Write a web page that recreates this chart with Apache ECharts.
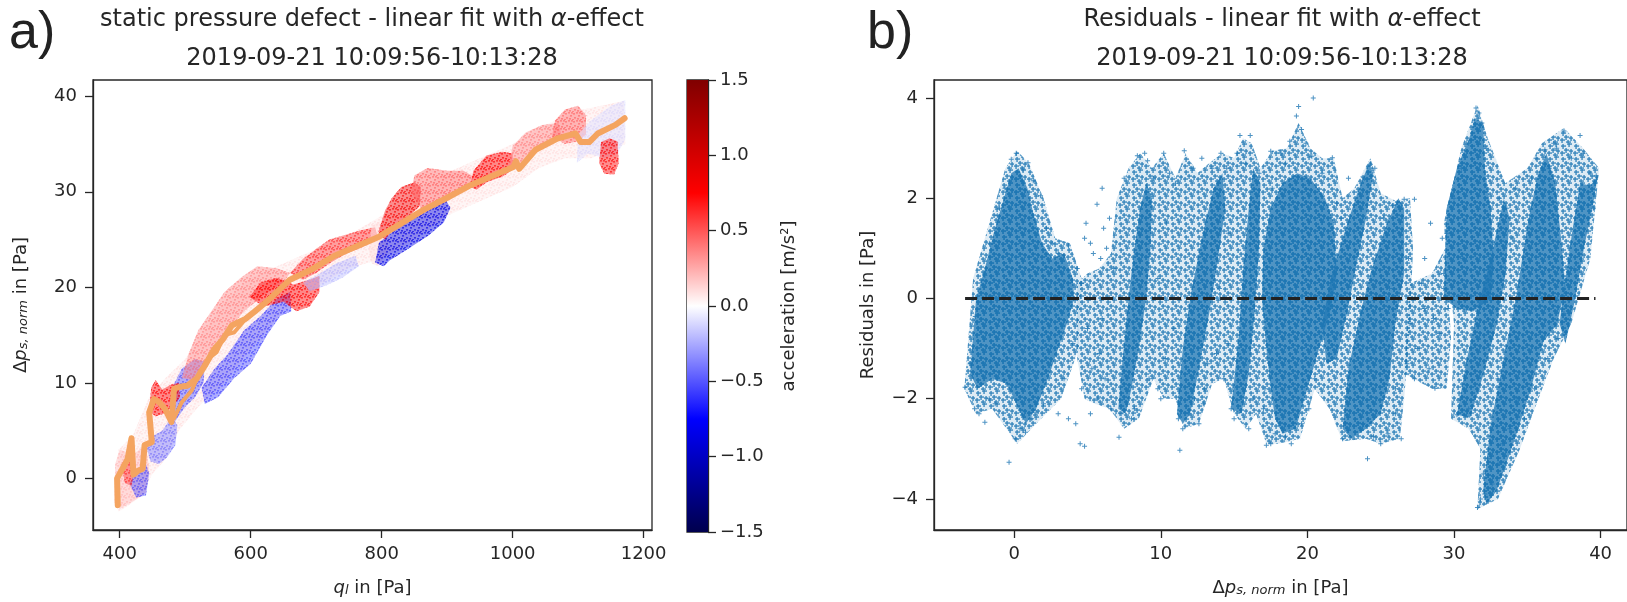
<!DOCTYPE html>
<html>
<head>
<meta charset="utf-8">
<script src="https://cdn.jsdelivr.net/npm/echarts@6/dist/echarts.min.js"></script>
<style>
html, body { margin: 0; padding: 0; background: #fff; }
#main { width: 1627px; height: 602px; }
</style>
</head>
<body>
<div id="main"></div>
<script>
// ---- tick labels ----
var qTicks = [400, 600, 800, 1000, 1200];
var dpTicks = [0, 10, 20, 30, 40];
var resXTicks = [0, 10, 20, 30, 40];
var resYTicks = [-4, -2, 0, 2, 4];
var accTicks = [-1.5, -1.0, -0.5, 0.0, 0.5, 1.0, 1.5];
// matplotlib 'seismic', evenly spaced stops from -1.5 to 1.5
var seismicColors = ['#00004d', '#0000ff', '#ffffff', '#ff0000', '#800000'];

// ---- panel a: outlines of the point cloud [q_l, dp] and the acceleration of each ----
var cloudShapes = [
    // pale band along the whole fit
    [[398,3],[420,4.5],[445,8.5],[470,10.5],[500,12.5],[530,15.5],[560,18.5],[600,21],[650,22.5],[700,24],[750,25.5],[800,27.5],[850,30],[900,32],[950,33.5],[1000,35],[1050,37],[1100,38.5],[1170,39.5],
     [1172,35],[1120,33.5],[1080,33.5],[1040,32.5],[1000,30.5],[950,29],[900,27.5],[850,25],[800,23],[750,22],[700,20],[650,17.5],[600,13.5],[560,10],[520,7.5],[490,5],[470,2],[450,0.5],[430,-2],[410,-3],[398,-3.5]],
    [[392,-2.5],[393,1.5],[400,3.0],[410,2.8],[420,2.5],[440,3.5],[445,1.0],[440,-1.5],[425,-2.2],[410,-2.8],[400,-3.2]],
    [[415,-0.5],[425,-2.0],[440,-1.8],[445,0.5],[440,1.5],[425,0.8]],
    [[403,1.5],[408,-0.5],[418,-0.8],[422,0.8],[418,2.0],[410,2.2]],
    [[440,3.5],[447,1.8],[460,1.5],[472,2.2],[485,3.5],[488,5.5],[480,6.5],[465,5.0],[452,4.5]],
    [[476,6.5],[480,9.5],[495,11.5],[515,12.5],[530,12.2],[528,10],[515,8.5],[500,7.5],[485,6.0]],
    [[445,7.0],[448,9.5],[455,10.3],[465,9.3],[478,9.8],[490,10.0],[492,8.5],[480,7.5],[468,6.8],[455,6.5]],
    [[525,9.5],[545,11.5],[565,13.0],[590,15.5],[615,17.0],[640,18.8],[660,19.5],[662,17.5],[645,17.0],[625,15.0],[600,12.0],[575,10.5],[550,8.5],[530,7.8]],
    [[495,10.5],[505,13.0],[520,15.5],[540,17.5],[560,19.5],[585,21.0],[610,22.2],[640,22.0],[660,21.5],[650,20.5],[620,19.2],[590,17.5],[565,15.5],[545,13.5],[525,11.5],[510,10.3]],
    [[598,19.0],[615,20.5],[640,21.0],[665,20.3],[690,20.8],[705,21.2],[705,19.5],[690,18.0],[670,17.5],[650,18.5],[620,18.0]],
    [[680,20.5],[700,21.2],[730,22.5],[760,23.3],[765,22.2],[740,21.0],[715,20.2],[690,19.6]],
    [[660,21.5],[680,23.0],[700,24.0],[720,25.0],[745,25.5],[770,26.0],[790,26.3],[795,25.0],[770,24.2],[745,23.5],[720,22.5],[700,21.5],[680,20.8]],
    [[780,24.0],[785,26.5],[800,27.0],[812,26.0],[808,23.5],[795,22.2],[785,22.5]],
    [[790,22.6],[796,24.7],[830,26.5],[870,28.0],[895,29.5],[905,28.3],[895,26.8],[871,25.4],[840,24.0],[812,22.8],[803,22.2]],
    [[795,25.8],[805,28.0],[815,29.3],[830,30.5],[850,31.0],[860,30.5],[858,28.5],[840,27.3],[820,26.3],[805,25.0]],
    [[845,30.0],[850,31.7],[870,32.5],[900,32.2],[925,32.2],[940,31.6],[935,30.5],[905,29.8],[880,28.6],[860,28.3]],
    [[935,30.5],[940,32.2],[960,33.8],[985,34.2],[1000,34.0],[1000,32.3],[985,31.6],[960,31.0],[945,30.2]],
    [[995,33.0],[1000,34.8],[1020,36.2],[1045,37.0],[1070,37.2],[1075,35.8],[1060,35.0],[1035,34.2],[1010,32.5]],
    [[1060,35.8],[1065,37.5],[1080,38.6],[1100,39.0],[1112,38.0],[1112,36.0],[1100,35.3],[1080,35.0]],
    [[1098,33.0],[1100,36.0],[1120,37.5],[1150,39.0],[1172,39.6],[1172,35.5],[1160,34.0],[1140,33.5],[1115,34.0]],
    [[1132,33.0],[1135,35.2],[1148,35.6],[1160,35.3],[1162,33.0],[1155,31.8],[1140,31.9]]
];
var cloudAcc = [0.15, 0.2, -0.5, 0.6, -0.4, -0.5, 0.75, -0.55, 0.35, 0.75, -0.2, 0.6, 0.1, -0.85, 0.8, 0.45, 0.75, 0.35, 0.45, -0.1, 0.75];

// fitted values (orange)
var fitMain = [[397,-2.8],[396,0],[404,1.0],[412,2.0],[418,4.2],[421,0.4],[428,0.8],[435,1.0],[438,3.5],[449,3.8],[445,6.9],[452,8.3],[460,8.0],[469,7.3],[479,5.9],[483,9.4],[493,9.6],[503,9.7],[517,10.4],[530,11.8],[544,13.5],[558,14.6],[571,16.0],[592,16.7],[605,17.4],[626,18.6],[660,20.8],[694,21.9],[728,23.3],[762,24.3],[796,25.3],[830,26.7],[864,28.1],[898,29.3],[933,30.6],[967,31.6],[1001,32.6],[1005,33.2],[1010,32.4],[1035,34.4],[1069,35.6],[1096,36.1],[1104,35.2],[1117,35.2],[1130,36.1],[1157,37.0],[1171,37.7]];
var fitLoop = [[483,6.3],[495,8.0],[510,9.2],[522,11.1],[535,12.5],[548,13.2],[560,15.0],[575,15.3],[590,16.5],[605,17.4]];

// ---- panel b: dense cores and looser areas of the residual cloud [dp, residual] ----
var denseShapes = [
    [[-3.0,-1.5],[-2.6,0.0],[-2.0,0.6],[-1.4,1.3],[-0.8,1.9],[-0.2,2.5],[0.3,2.6],[0.9,2.2],[1.3,1.7],[1.9,1.1],[2.6,0.8],[3.4,0.9],[4.0,0.4],[4.1,0.0],[3.6,-0.5],[3.0,-1.0],[2.3,-1.6],[1.5,-2.2],[0.8,-2.5],[0.3,-2.2],[-0.5,-1.7],[-1.5,-1.6],[-2.5,-1.8]],
    [[7.1,-2.2],[7.4,-1.2],[7.8,0.0],[8.2,1.0],[8.6,1.8],[9.0,2.3],[9.4,2.0],[9.3,1.0],[9.0,0.0],[8.5,-1.0],[8.0,-1.8],[7.6,-2.3]],
    [[11.1,-2.3],[11.5,-1.0],[12.0,0.0],[12.8,1.2],[13.6,2.2],[14.2,2.5],[14.4,1.8],[13.8,0.6],[13.3,-0.3],[12.6,-1.4],[12.0,-2.3],[11.5,-2.5]],
    [[14.8,-2.2],[15.3,-0.8],[15.6,0.5],[16.0,1.8],[16.3,2.6],[16.8,2.3],[16.7,1.0],[16.4,-0.3],[16.0,-1.5],[15.5,-2.3]],
    [[17.8,-2.4],[18.3,-2.7],[19.2,-2.6],[19.8,-2.0],[20.6,-1.2],[21.6,-0.2],[22.0,0.5],[21.8,1.5],[21.2,2.0],[20.2,2.4],[19.3,2.5],[18.3,2.3],[17.5,1.8],[17.0,1.0],[16.9,0.0],[17.2,-1.0],[17.5,-1.8]],
    [[21.0,-0.5],[21.6,0.4],[22.4,1.2],[23.4,2.1],[24.2,2.7],[24.5,2.5],[24.0,1.6],[23.3,0.6],[22.7,-0.3],[22.0,-1.2],[21.3,-1.3]],
    [[22.4,-2.6],[22.8,-1.4],[23.6,-0.3],[24.3,0.5],[25.3,1.4],[26.2,2.0],[26.6,1.8],[26.6,0.5],[26.0,-0.5],[25.6,-1.6],[25.0,-2.3],[24.0,-2.6],[23.0,-2.8]],
    [[29.3,0.0],[29.5,1.8],[30.2,2.6],[31.1,3.25],[31.4,3.6],[32.0,3.5],[32.1,2.58],[32.5,1.8],[32.7,0.8],[32.5,0.0],[31.3,-0.26],[30.2,-0.2]],
    [[30.2,-2.32],[30.9,-1.19],[31.6,-0.2],[32.5,0.8],[33.4,1.99],[33.8,1.6],[33.5,0.46],[32.9,-0.53],[32.0,-1.52],[31.1,-2.38]],
    [[32.0,-3.8],[32.5,-2.52],[33.4,-1.19],[34.3,0.13],[35.0,1.46],[35.7,2.45],[36.3,2.9],[36.9,2.3],[37.3,1.2],[37.6,0.2],[37.0,-0.53],[36.1,-0.86],[35.2,-1.85],[34.1,-2.85],[32.9,-3.84],[32.2,-4.1]],
    [[37.2,-0.5],[37.6,0.4],[38.1,1.4],[38.6,2.3],[39.3,2.25],[39.8,2.45],[39.5,1.9],[38.9,1.06],[38.2,-0.1],[37.6,-0.9]]
];
var looseShapes = [
    [[-3.4,-1.8],[-2.8,0.4],[-1.8,1.4],[-0.6,2.6],[0.2,2.95],[1.0,2.7],[2.0,2.0],[2.8,1.2],[3.8,1.1],[4.6,0.4],[4.4,-1.0],[3.2,-2.0],[1.5,-2.5],[0.2,-2.9],[-1.5,-2.2],[-2.6,-2.3]],
    [[4.3,0.3],[5.0,0.5],[5.8,0.6],[6.6,0.9],[7.0,2.0],[7.8,2.6],[8.6,2.9],[9.4,2.6],[10.2,2.9],[11.0,2.4],[11.7,2.9],[12.5,2.5],[13.3,2.7],[14.2,2.9],[15.0,2.8],[15.6,3.2],[16.2,3.1],[16.8,2.6],[17.6,2.95],[18.6,3.0],[19.4,3.5],[20.2,3.0],[21.0,2.8],[21.8,2.8],[22.4,2.0],[23.2,2.2],[24.3,2.8],[25.0,2.1],[26.0,1.95],[27.0,2.0],[27.2,1.0],
     [27.0,-0.5],[26.6,-2.0],[26.3,-2.8],[25.0,-2.9],[24.0,-2.8],[22.4,-2.85],[21.5,-2.2],[20.5,-1.8],[19.5,-2.8],[18.0,-2.9],[17.2,-2.9],[16.5,-2.3],[15.8,-2.6],[15.0,-2.3],[14.3,-1.6],[13.5,-1.7],[12.6,-2.5],[11.6,-2.6],[11.0,-2.0],[10.2,-2.0],[9.5,-1.6],[8.5,-2.4],[7.5,-2.6],[6.5,-2.2],[5.5,-2.1],[4.8,-2.0],[4.3,-1.2]],
    [[26.6,-1.5],[27.0,0.3],[28.5,0.5],[29.4,1.0],[29.8,-0.8],[29.5,-1.8],[28.5,-1.8]],
    [[29.8,-2.4],[30.0,-0.5],[29.3,1.5],[30.5,3.0],[31.6,3.85],[32.3,3.2],[33.5,2.3],[35.0,2.6],[36.0,3.1],[37.5,3.4],[38.8,3.0],[39.9,2.6],[39.3,0.8],[38.0,-0.5],[36.8,-1.2],[35.5,-2.2],[34.5,-3.0],[33.0,-4.0],[31.6,-4.2],[31.8,-3.0],[31.0,-2.6]]
];
var residualPts = [
    [-3.35,-1.77],[-3.0,-1.3],[-2.7,-2.2],[-2.4,-2.3],[-2.0,-2.47],[-1.7,-2.0],[-1.3,-2.1],[-0.35,-3.27],[0.07,-2.8],[0.4,-2.6],[0.77,-2.67],[1.2,-2.4],[1.5,-2.27],[2.0,-2.1],[2.9,-1.13],
    [-2.65,-0.36],[-2.0,0.46],[-1.67,1.1],[-1.15,1.65],[-1.0,1.8],[-0.63,2.2],[-0.2,2.78],[0.14,2.9],[0.6,2.58],[0.94,2.71],[1.3,2.35],[1.8,2.05],[2.2,1.4],[2.6,1.1],[3.0,0.9],[3.7,1.05],[4.3,0.6],[4.6,0.3],[4.0,-0.9],[3.4,-1.6],
    [4.5,-2.9],[4.8,-2.95],[4.2,-2.5],[5.2,-2.3],[5.7,-2.0],[6.2,-1.6],[3.0,-2.3],[3.7,-2.4],[5.65,1.88],[4.8,1.2],[5.4,0.9],[6.5,1.6],[6.0,2.2],[6.3,1.0],[5.0,-0.6],[5.8,-1.1],[4.6,-1.8],[6.6,-2.2],
    [7.15,-2.77],[7.3,-2.3],[7.5,2.4],[8.0,-2.4],[8.4,2.85],[8.9,2.9],[9.1,2.75],[9.5,2.4],[10.2,2.9],[10.6,2.5],[11.0,2.3],[11.6,2.95],[8.2,-2.2],[9.2,-1.6],[9.8,-1.8],[10.3,-1.2],[10.0,-2.0],
    [11.3,-3.03],[11.2,-2.4],[11.5,-2.6],[11.9,-2.3],[12.3,-2.0],[12.6,-2.5],[13.0,-1.8],[12.2,2.6],[12.8,2.8],[13.5,2.6],[14.1,2.9],[14.5,2.6],[13.2,-1.3],[13.8,-1.1],[14.3,-1.6],
    [14.8,-2.2],[15.0,-2.4],[15.4,3.25],[16.1,3.25],[15.2,2.9],[15.8,2.7],[16.3,-2.0],[16.0,-2.6],[14.6,-0.9],[17.1,-1.8],[17.0,-2.2],
    [17.2,-2.93],[17.5,-2.9],[17.8,-2.7],[18.9,-2.9],[18.5,-2.75],[19.6,-2.5],[20.1,-2.2],[20.5,-1.6],[19.25,3.64],[19.4,3.83],[20.4,4.0],[19.6,3.37],[18.8,3.14],[17.5,2.94],[18.2,2.9],[20.3,2.84],[21.7,2.81],[16.7,2.5],[19.9,3.1],[18.5,2.7],[21.0,2.5],[22.0,1.9],[22.3,1.6],
    [22.4,-2.8],[22.6,-2.5],[23.8,-2.5],[24.1,-3.2],[24.5,-2.75],[25.0,-2.9],[25.5,-2.7],[26.4,-2.8],[26.0,-2.3],[26.6,1.98],[27.3,1.98],[25.8,1.85],[26.0,-1.8],[24.3,2.68],[24.6,2.6],[23.9,2.4],[25.2,1.6],
    [28.7,-1.79],[27.0,-0.5],[27.5,-1.0],[28.0,-0.2],[28.3,-1.4],[29.0,-0.7],[26.8,-1.3],[27.8,0.3],[29.3,0.2],[27.3,-1.6],[28.6,-0.4],[29.6,-0.2],[28.0,0.8],[29.2,1.2],
    [29.3,0.5],[29.5,1.3],[30.0,2.0],[30.5,2.6],[31.0,3.1],[31.5,3.8],[31.7,3.7],[31.9,3.5],[32.2,3.0],[30.2,-2.32],[30.4,-2.0],[31.0,-2.2],[31.6,-4.17],[31.8,-4.0],[32.1,-3.9],[32.0,-3.5],[32.6,-3.7],[32.3,-3.2],[33.0,-3.3],[33.3,-2.9],[33.8,-2.6],[34.3,-2.0],
    [33.1,2.0],[33.6,1.8],[34.0,1.2],[35.3,2.4],[35.6,2.8],[36.2,2.97],[37.5,3.34],[37.0,3.0],[38.0,2.8],[38.8,2.9],[39.3,2.5],[39.7,2.45],[36.5,2.6],[39.5,1.8],[38.2,0.6],[37.5,-0.3],[37.1,-0.8],[36.4,-1.2],[35.5,-1.8],[34.8,-2.4],
    [5.3,-1.4],[6.0,-0.4],[6.8,0.6],[9.8,0.4],[10.4,1.5],[10.9,-0.6],[12.9,-2.1],[14.0,0.2],[14.6,1.3],[15.0,-1.2],[17.6,2.2],[20.8,1.4],[22.8,2.4],[23.6,-1.8],[25.6,0.2],[26.9,0.8],[28.4,1.5],[30.6,0.8],[33.0,-1.6],[34.2,2.2],[36.8,3.1],[38.6,3.25],
    [4.9,1.5],[5.2,1.1],[6.1,1.4],[5.9,0.8]
];
var zeroLine = [[-3.35, 0], [39.65, 0]];

// ---- styles ----
var FONT = 'DejaVu Sans';
var INK = '#262626';
var BLUE = '#1f77b4';
var PLUS = 'path://M2,0H3V2H5V3H3V5H2V3H0V2H2Z';

function minus(v) { return String(v).replace('-', '\u2212'); }

function txt(size, extra) {
    var s = { fontSize: size, fontFamily: FONT, color: INK, fontWeight: 'normal' };
    for (var k in extra) s[k] = extra[k];
    return s;
}

// speckled fills so the regions read like scattered markers
var tileCache = {};
function plusTile(color) {
    var key = 'p' + color;
    if (tileCache[key]) return tileCache[key];
    var c = document.createElement('canvas');
    c.width = 13; c.height = 13;
    var g = c.getContext('2d');
    g.fillStyle = color;
    [[3,3],[9,1],[6,7],[11,8],[2,10],[8,12]].forEach(function (p) {
        g.fillRect(p[0] - 2, p[1] - 0.6, 5, 1.3);
        g.fillRect(p[0] - 0.6, p[1] - 2, 1.3, 5);
    });
    tileCache[key] = { image: c, repeat: 'repeat' };
    return tileCache[key];
}
function dotTile(color) {
    var key = 'd' + color;
    if (tileCache[key]) return tileCache[key];
    var c = document.createElement('canvas');
    c.width = 8; c.height = 8;
    var g = c.getContext('2d');
    g.fillStyle = color;
    [[0,0],[5,1],[2,3],[6,5],[1,6],[4,7],[3,0]].forEach(function (p) { g.fillRect(p[0], p[1], 2, 1.6); });
    tileCache[key] = { image: c, repeat: 'repeat' };
    return tileCache[key];
}

var nameRich = {
    n: txt(18, {}),
    i: txt(18, { fontStyle: 'italic' }),
    s: txt(13, { fontStyle: 'italic', verticalAlign: 'bottom', lineHeight: 13 })
};

function valueAxis(grid, min, max, ticks, fmt) {
    return {
        type: 'value', gridIndex: grid, min: min, max: max,
        splitLine: { show: false },
        axisLine: { show: true, onZero: false, lineStyle: { color: INK, width: 1.3 } },
        axisTick: { show: true, length: 8, customValues: ticks, lineStyle: { color: INK, width: 1.3 } },
        axisLabel: { customValues: ticks, fontSize: 18, fontFamily: FONT, color: INK, margin: 15, formatter: fmt || minus },
        nameLocation: 'middle',
        nameTextStyle: { rich: nameRich }
    };
}

function polyPoints(shape, api) {
    return shape.map(function (p) { return api.coord(p); });
}

var chart = echarts.init(document.getElementById('main'), null, { renderer: 'canvas' });

var xa0 = valueAxis(0, 359.2, 1212.8, qTicks);
xa0.name = '{i|q}{s|l}{n| in [Pa]}';
xa0.nameGap = 49;
var ya0 = valueAxis(0, -5.4, 41.7, dpTicks);
ya0.name = '{n|\u0394}{i|p}{s|s, norm}{n| in [Pa]}';
ya0.nameGap = 63;
ya0.axisLabel.margin = 16;

var xa1 = valueAxis(1, -5.47, 41.8, resXTicks);
xa1.name = '{n|\u0394}{i|p}{s|s, norm}{n| in [Pa]}';
xa1.nameGap = 49;
var ya1 = valueAxis(1, -4.62, 4.36, resYTicks);
ya1.name = '{n|Residuals in [Pa]}';
ya1.nameGap = 57;
ya1.axisLabel.margin = 16;

var xa2 = { type: 'value', gridIndex: 2, min: 0, max: 1, show: false };
var ya2 = valueAxis(2, -1.5, 1.5, accTicks, function (v) { return minus(v.toFixed(1)); });
ya2.position = 'right';
ya2.axisLabel.margin = 12;
ya2.name = '{n|acceleration [m/s\u00b2]}';
ya2.nameRotate = 90;
ya2.nameGap = 72;

var titleRich = { n: txt(24, { lineHeight: 39 }), i: txt(24, { fontStyle: 'italic', lineHeight: 39 }) };

var option = {
    animation: false,
    backgroundColor: '#fff',
    title: [
        {
            text: '{n|static pressure defect - linear fit with }{i|\u03b1}{n|-effect}\n{n|2019-09-21 10:09:56-10:13:28}',
            left: 372, top: 0, textAlign: 'center', padding: 0,
            textStyle: { fontWeight: 'normal', rich: titleRich }
        },
        {
            text: '{n|Residuals - linear fit with }{i|\u03b1}{n|-effect}\n{n|2019-09-21 10:09:56-10:13:28}',
            left: 1282, top: 0, textAlign: 'center', padding: 0,
            textStyle: { fontWeight: 'normal', rich: titleRich }
        },
        { text: 'a)', left: 9, top: 8, padding: 0, textStyle: { fontSize: 52, fontWeight: 'normal', fontFamily: 'Liberation Sans', color: '#222' } },
        { text: 'b)', left: 867, top: 8, padding: 0, textStyle: { fontSize: 52, fontWeight: 'normal', fontFamily: 'Liberation Sans', color: '#222' } }
    ],
    grid: [
        { left: 93, top: 80, width: 559, height: 452, show: true, borderColor: INK, borderWidth: 1.3 },
        { left: 934, top: 80, width: 697, height: 452, show: true, borderColor: INK, borderWidth: 1.3 },
        { left: 687, top: 80, width: 21, height: 452, show: true, borderColor: INK, borderWidth: 1.3 }
    ],
    xAxis: [xa0, xa1, xa2],
    yAxis: [ya0, ya1, ya2],
    visualMap: [{
        type: 'continuous', show: false, min: -1.5, max: 1.5, dimension: 2,
        seriesIndex: [0], inRange: { color: seismicColors }
    }],
    series: [
        {
            type: 'custom', xAxisIndex: 0, yAxisIndex: 0, clip: true,
            data: cloudShapes.map(function (s, i) { return [s[0][0], s[0][1], cloudAcc[i]]; }),
            renderItem: function (params, api) {
                var pts = polyPoints(cloudShapes[params.dataIndex], api);
                var col = api.visual('color');
                var base = params.dataIndex === 0 ? 0.2 : 0.45;
                return {
                    type: 'group', children: [
                        { type: 'polygon', shape: { points: pts }, style: { fill: col, opacity: base } },
                        { type: 'polygon', shape: { points: pts }, style: { fill: dotTile(col), opacity: base + 0.15 } }
                    ]
                };
            }
        },
        {
            type: 'line', xAxisIndex: 0, yAxisIndex: 0, data: fitMain, showSymbol: false, z: 5,
            lineStyle: { color: '#f4a460', width: 6, cap: 'round', join: 'round' }
        },
        {
            type: 'line', xAxisIndex: 0, yAxisIndex: 0, data: fitLoop, showSymbol: false, z: 5,
            lineStyle: { color: '#f4a460', width: 4, cap: 'round', join: 'round' }
        },
        {
            type: 'custom', xAxisIndex: 2, yAxisIndex: 2,
            data: [[0, accTicks[0]]],
            renderItem: function (params, api) {
                var lo = api.coord([0, accTicks[0]]);
                var hi = api.coord([1, accTicks[accTicks.length - 1]]);
                var stops = seismicColors.map(function (c, i) { return { offset: i / (seismicColors.length - 1), color: c }; });
                return {
                    type: 'rect',
                    shape: { x: lo[0], y: hi[1], width: hi[0] - lo[0], height: lo[1] - hi[1] },
                    style: { fill: new echarts.graphic.LinearGradient(0, 1, 0, 0, stops) }
                };
            }
        },
        {
            type: 'custom', xAxisIndex: 1, yAxisIndex: 1, clip: true,
            data: looseShapes.map(function (s) { return s[0]; }),
            renderItem: function (params, api) {
                var pts = polyPoints(looseShapes[params.dataIndex], api);
                return {
                    type: 'group', children: [
                        { type: 'polygon', shape: { points: pts }, style: { fill: BLUE, opacity: 0.15 } },
                        { type: 'polygon', shape: { points: pts }, style: { fill: plusTile(BLUE), opacity: 0.9 } }
                    ]
                };
            }
        },
        {
            type: 'custom', xAxisIndex: 1, yAxisIndex: 1, clip: true,
            data: denseShapes.map(function (s) { return s[0]; }),
            renderItem: function (params, api) {
                var pts = polyPoints(denseShapes[params.dataIndex], api);
                return {
                    type: 'group', children: [
                        { type: 'polygon', shape: { points: pts }, style: { fill: BLUE, opacity: 0.75 } },
                        { type: 'polygon', shape: { points: pts }, style: { fill: plusTile(BLUE), opacity: 1 } }
                    ]
                };
            }
        },
        {
            type: 'scatter', xAxisIndex: 1, yAxisIndex: 1, data: residualPts,
            symbol: PLUS, symbolSize: 5, itemStyle: { color: BLUE }
        },
        {
            type: 'line', xAxisIndex: 1, yAxisIndex: 1, data: zeroLine, showSymbol: false, z: 10,
            lineStyle: { color: '#222', width: 3, type: [12, 5] }
        }
    ]
};

chart.setOption(option);
</script>
</body>
</html>
